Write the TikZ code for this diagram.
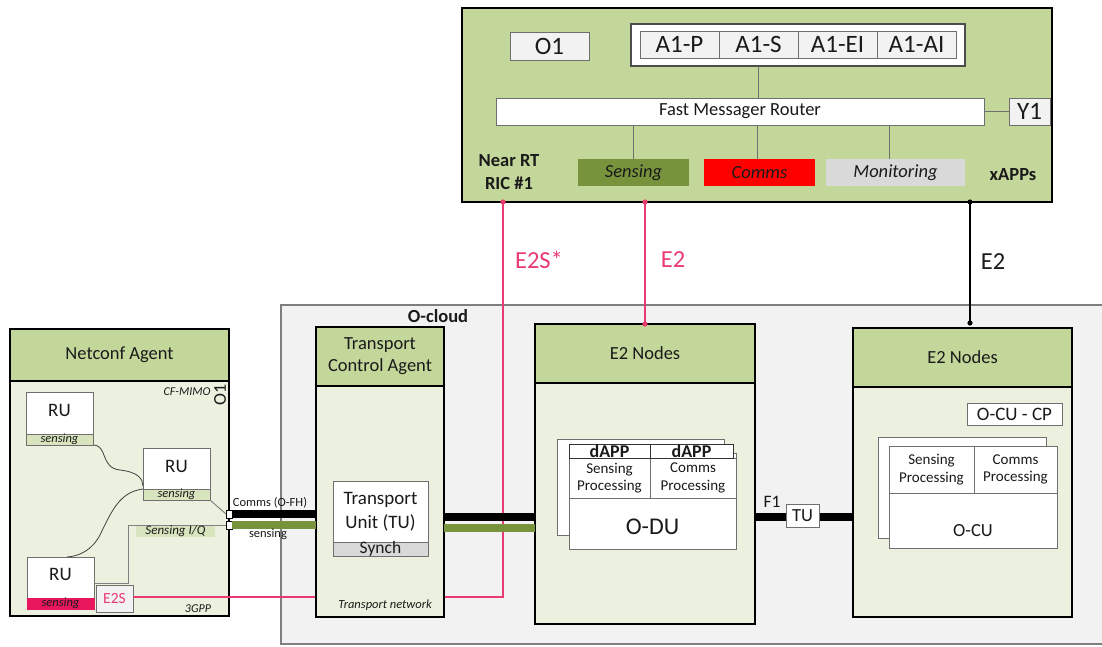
\documentclass[tikz,border=0pt]{standalone}
\usepackage{fontspec}
\setmainfont{Carlito}
\usetikzlibrary{fit,calc}
\definecolor{headg}{HTML}{C4D79B}
\definecolor{bodyg}{HTML}{EBF1DE}
\definecolor{cloudg}{HTML}{F2F2F2}
\definecolor{cloudb}{HTML}{7F7F7F}
\definecolor{olivec}{HTML}{77933C}
\definecolor{lgrey}{HTML}{D9D9D9}
\definecolor{boxg}{HTML}{F2F2F2}
\definecolor{stripc}{HTML}{D7E4BD}
\definecolor{pinkc}{HTML}{EA3A72}
\definecolor{pinks}{HTML}{E8175D}
\definecolor{txt}{HTML}{1A1A1A}
\definecolor{edgec}{HTML}{6F6F6F}
\newcommand\fs[2]{\fontsize{#1pt}{#2pt}\selectfont}
\newcommand\bx[7]{\node[#6, fit={(#2,#3)(#4,#5)}] (#1) {};
  \node[#6, draw=none, fill=none, text height=, text depth=] (#1-t) at (#1.center) {#7};}
\tikzset{
  x=1pt, y=-1pt,
  every node/.style={text=txt, font=\fs{18.5}{22}},
  base/.style={inner sep=0pt, outer sep=0pt, align=center},
  bigbox/.style={base, draw=black, line width=2.5pt, fill=bodyg},
  headbox/.style={base, draw=black, line width=2.5pt, fill=headg},
  ricbox/.style={base, draw=black, line width=2.5pt, fill=headg},
  whitebox/.style={base, draw=edgec, line width=0.9pt, fill=white},
  greybox/.style={base, draw=edgec, line width=0.9pt, fill=boxg},
  stripbox/.style={base, draw=edgec, line width=0.6pt, fill=stripc, font=\itshape\fs{12.5}{14}},
  xapp/.style={base, font=\itshape\fs{18.5}{22}},
  thinl/.style={draw=edgec, line width=1pt},
  curvel/.style={draw=black!75, line width=0.8pt},
  pinkl/.style={draw=pinkc, line width=1.3pt},
  fhblack/.style={draw=black, line width=8pt},
  fhgreen/.style={draw=olivec, line width=8pt},
  port/.style={base, draw=black, fill=white, line width=0.6pt},
  small/.style={font=\itshape\fs{12.5}{14}},
}
\begin{document}
\begin{tikzpicture}
\useasboundingbox[fill=white] (0,0) rectangle (1102,646);

% O-cloud
\bx{oc}{281}{305}{1102}{644}{base, fill=cloudg}{}
\draw[cloudb, line width=1.5pt] (oc.north east) -- (oc.north west) -- (oc.south west) -- (oc.south east);
\node[font=\bfseries\fs{18.5}{20}] (octxt) at (438,316) {O-cloud};

% Near RT RIC
\bx{ric}{462}{8}{1052}{202}{ricbox}{}
\bx{o1}{510}{32}{589}{60}{greybox, font=\fs{25}{28}}{O1}
\bx{a1c}{631}{24}{965}{66}{whitebox, draw=black!70, line width=1.3pt}{}
\bx{a1p}{640}{31}{719}{58}{greybox, font=\fs{25}{28}}{A1-P}
\bx{a1s}{719}{31}{798}{58}{greybox, font=\fs{25}{28}}{A1-S}
\bx{a1e}{798}{31}{877}{58}{greybox, font=\fs{25}{28}}{A1-EI}
\bx{a1a}{877}{31}{956}{58}{greybox, font=\fs{25}{28}}{A1-AI}
\bx{rtr}{496}{98}{984}{125}{whitebox}{Fast Messager Router}
\bx{y1}{1009}{98}{1050}{125}{greybox, font=\fs{25}{28}}{Y1}
\bx{xs}{578}{159}{689}{186}{xapp, fill=olivec}{Sensing}
\bx{xc}{704}{159}{815}{186}{xapp, fill=red}{Comms}
\bx{xm}{826}{159}{965}{186}{xapp, fill=lgrey}{Monitoring}
\node[font=\bfseries\fs{18.5}{23}, align=center] (nrt) at (509,172) {Near RT\\RIC \#1};
\node[font=\bfseries\fs{18.5}{22}] (xapps) at (1013,175) {xAPPs};
\draw[thinl] (a1s.south |- a1c.south) -- (a1s.south |- rtr.north);
\draw[thinl] (rtr.east) -- (y1.west);
\draw[thinl] (xs.north) -- (xs.north |- rtr.south);
\draw[thinl] ([xshift=-2pt]xc.north) -- ([xshift=-2pt]xc.north |- rtr.south);
\draw[thinl] ([xshift=-6pt]xm.north) -- ([xshift=-6pt]xm.north |- rtr.south);

% Netconf agent
\bx{nc}{10}{329}{229}{616}{bigbox}{}
\bx{nch}{10}{329}{229}{381}{headbox}{Netconf Agent}
\node[font=\itshape\fs{12}{14}] (cfm) at (187,392) {CF-MIMO};
\node[font=\fs{18}{20}, rotate=90] (o1r) at (220,395) {O1};

% curves between RUs (under the RU boxes)
\coordinate (cA) at (143,486);
\coordinate (cB) at (143,489);
\bx{ru1}{26}{392}{93}{445}{whitebox}{}
\bx{ru2}{143}{448}{210}{500}{whitebox}{}
\bx{ru3}{27}{557}{94}{609}{whitebox}{}
\draw[curvel] (ru1.south east) .. controls (108,445) and (100,468) .. (120,470) .. controls (138,472) and (143,479) .. (cA);
\draw[curvel] (cB) .. controls (120,492) and (112,510) .. (100,535) .. controls (92,550) and (80,556) .. (ru3.north -| 67,0);
\bx{ru1s}{26}{434}{93}{445}{stripbox}{sensing}
\bx{ru2s}{143}{489}{210}{500}{stripbox}{sensing}
\bx{ru3s}{27}{598}{94}{609}{stripbox, fill=pinks, draw=pinks}{sensing}
\node[font=\fs{19}{22}] (ru1t) at (59.5,410) {RU};
\node[font=\fs{19}{22}] (ru2t) at (176.5,466) {RU};
\node[font=\fs{19}{22}] (ru3t) at (60.5,574) {RU};

% ports on the Netconf box
\bx{pta}{226}{510}{232}{518}{port}{}
\bx{ptb}{226}{521}{232}{529}{port}{}
\draw[curvel, draw=edgec] (ru2.south east) -- (pta.west);
\draw[thinl, draw=gray] (ru3.east) -- ++(34,0) |- (ptb.west);
\bx{siq}{136}{526}{215}{537}{base, fill=stripc, font=\itshape\fs{13}{14}}{Sensing I/Q}
\bx{e2s}{96}{585}{133}{612}{greybox, text=pinkc, font=\fs{15.5}{18}}{E2S}
\node[font=\itshape\fs{12}{14}] (gpp) at (198,609) {3GPP};

% E2S* connector (behind transport box)
\coordinate (pa) at (503,202);
\draw[pinkl] (e2s.east |- 0,597) -| (pa);
\fill[pinkc] (pa) circle (2.6pt);

% Transport control agent
\bx{tca}{316}{327}{444}{617}{bigbox}{}
\bx{tcah}{316}{327}{444}{386}{headbox, font=\fs{18.5}{22}}{Transport\\Control Agent}
\bx{tu}{333}{481}{428}{542}{whitebox, font=\fs{19}{24}}{Transport\\Unit (TU)}
\bx{syn}{333}{542}{428}{556}{base, draw=edgec, line width=0.9pt, fill=lgrey, font=\fs{17.5}{18}}{Synch}
\node[small] (tnet) at (385,605) {Transport network};

% fronthaul links
\draw[fhblack] (pta.east) -- (pta.east -| tca.west);
\draw[fhgreen] (ptb.east) -- (ptb.east -| tca.west);
\node[font=\fs{12.5}{14}] (fhl) at (270,503) {Comms (O-FH)};
\node[font=\fs{12.5}{14}] (fhs) at (268,534) {sensing};

% DU
\bx{du}{535}{324}{755}{624}{bigbox}{}
\bx{duh}{535}{324}{755}{383}{headbox}{E2 Nodes}
\bx{dub}{557}{439}{724}{535}{whitebox}{}
\bx{duf}{569}{453}{736}{549}{whitebox}{}
\bx{dsp}{569}{458}{650}{498}{whitebox, font=\fs{15}{17.5}}{Sensing\\Processing}
\bx{dcp}{650}{458}{736}{498}{whitebox, font=\fs{15}{17.5}}{Comms\\Processing}
\bx{da1}{569}{444}{650}{458}{whitebox, draw=black!80, font=\bfseries\fs{18}{18}}{dAPP}
\bx{da2}{650}{444}{733}{458}{whitebox, draw=black!80, font=\bfseries\fs{18}{18}}{dAPP}
\node[font=\fs{24}{26}] (odu) at (652.5,527) {O-DU};

\draw[fhblack] (tca.east |- 0,517) -- (du.west |- 0,517);
\draw[fhgreen] (tca.east |- 0,528) -- (du.west |- 0,528);

% CU
\bx{cu}{853}{328}{1072}{617}{bigbox}{}
\bx{cuh}{853}{328}{1072}{387}{headbox}{E2 Nodes}
\bx{cucp}{967}{403}{1062}{425}{whitebox, draw=edgec, font=\fs{19}{20}}{O-CU - CP}
\bx{cub}{878}{437}{1046}{538}{whitebox}{}
\bx{cuf}{889}{446}{1057}{548}{whitebox}{}
\bx{csp}{889}{446}{974}{493}{whitebox, font=\fs{15}{17.5}}{Sensing\\Processing}
\bx{ccp}{974}{446}{1057}{493}{whitebox, font=\fs{15}{17.5}}{Comms\\Processing}
\node[font=\fs{18.5}{20}] (ocu) at (973,531) {O-CU};

% F1
\draw[fhblack] (du.east |- 0,517) -- (cu.west |- 0,517);
\bx{tu2}{786}{504}{819}{527}{whitebox, font=\fs{18.5}{20}}{TU}
\node[font=\fs{17.5}{20}] (f1) at (772,502) {F1};

% E2 connectors
\coordinate (pb) at (645,202);
\coordinate (pc) at (970,202);
\draw[pinkl] (pb) -- (pb |- du.north);
\fill[pinkc] (pb) circle (2.6pt);
\fill[pinkc] (pb |- du.north) circle (2.6pt);
\coordinate (pcb) at ($(pc |- cu.north)+(0,-5)$);
\draw[line width=1.3pt] (pc) -- (pcb);
\fill (pc) circle (2.6pt);
\fill (pcb) circle (2.6pt);
\node[text=pinkc, font=\fs{24.5}{28}] (le2s) at (539,260) {E2S*};
\node[text=pinkc, font=\fs{24.5}{28}] (le2a) at (673,260) {E2};
\node[font=\fs{24.5}{28}] (le2b) at (993,262) {E2};
\end{tikzpicture}
\end{document}
